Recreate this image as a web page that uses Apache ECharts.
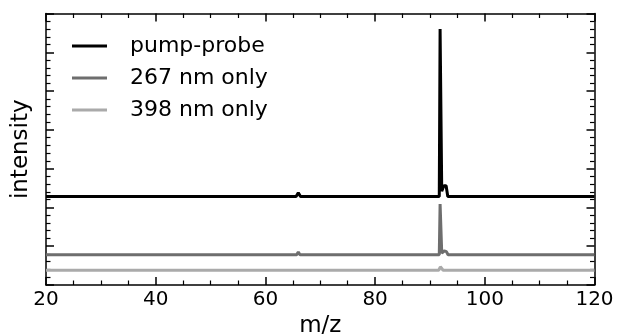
<!DOCTYPE html>
<html>
<head>
<meta charset="utf-8">
<script src="https://cdn.jsdelivr.net/npm/echarts@6/dist/echarts.min.js"></script>
<style>html,body{margin:0;padding:0;background:#fff}#c{width:619px;height:336px}</style>
</head>
<body>
<div id="c"></div>
<script>
// m/z ticks
const xTicks = [20, 40, 60, 80, 100, 120];
const seriesNames = ['pump-probe', '267 nm only', '398 nm only'];
// [m/z, intensity (arb. units, axis 0..7)]
const pumpProbe = [
  [20, 2.28], [40, 2.28], [65.6, 2.28], [66.0, 2.38], [66.4, 2.28],
  [91.7, 2.28], [91.85, 6.6], [92.0, 6.6], [92.15, 2.42], [92.55, 2.56],
  [92.95, 2.56], [93.25, 2.28], [120, 2.28]
];
const only267 = [
  [20, 0.78], [65.7, 0.78], [66.0, 0.85], [66.3, 0.78],
  [91.7, 0.78], [91.85, 2.09], [92.0, 2.09], [92.15, 0.82], [92.6, 0.88],
  [93.0, 0.86], [93.3, 0.78], [120, 0.78]
];
const only398 = [
  [20, 0.38], [91.6, 0.38], [91.9, 0.47], [92.1, 0.47], [92.4, 0.38], [120, 0.38]
];

const chart = echarts.init(document.getElementById('c'), null, {renderer: 'canvas'});
const font = 'DejaVu Sans';
const axLine = {show: true, onZero: false, lineStyle: {color: '#000', width: 1.5}};
const majTick = {show: true, inside: true, length: 8, lineStyle: {color: '#000', width: 1.5}};
const minTick = (n) => ({show: true, splitNumber: n, length: 4.5, lineStyle: {color: '#000', width: 1.2}});

chart.setOption({
  animation: false,
  backgroundColor: '#fff',
  grid: {left: 46, right: 24.5, top: 13.5, bottom: 51, containLabel: false, outerBoundsMode: 'none'},
  legend: {
    orient: 'vertical', left: 67, top: 30, icon: 'rect', itemWidth: 35, itemHeight: 3,
    itemGap: 10,
    textStyle: {fontFamily: font, fontSize: 22, color: '#000', padding: [0, 0, 0, 18], lineHeight: 22},
    data: seriesNames
  },
  xAxis: [
    {type: 'value', min: xTicks[0], max: xTicks[xTicks.length - 1], interval: 20, position: 'bottom',
     axisLine: axLine, axisTick: majTick, minorTick: minTick(4), splitLine: {show: false},
     axisLabel: {fontFamily: font, fontSize: 20, color: '#000', margin: 5},
     name: 'm/z', nameLocation: 'middle', nameGap: 30,
     nameTextStyle: {fontFamily: font, fontSize: 23, color: '#000'}},
    {type: 'value', min: xTicks[0], max: xTicks[xTicks.length - 1], interval: 20, position: 'top',
     axisLine: axLine, axisTick: majTick, minorTick: minTick(4), splitLine: {show: false},
     axisLabel: {show: false}}
  ],
  yAxis: [
    {type: 'value', min: 0, max: 7, interval: 1, position: 'left',
     axisLine: axLine, axisTick: majTick, minorTick: minTick(5), splitLine: {show: false},
     axisLabel: {show: false},
     name: 'intensity', nameLocation: 'middle', nameGap: 13,
     nameTextStyle: {fontFamily: font, fontSize: 23, color: '#000'}},
    {type: 'value', min: 0, max: 7, interval: 1, position: 'right',
     axisLine: axLine, axisTick: majTick, minorTick: minTick(5), splitLine: {show: false},
     axisLabel: {show: false}}
  ],
  series: [
    {name: seriesNames[0], type: 'line', data: pumpProbe, showSymbol: false, z: 5,
     lineStyle: {color: '#000', width: 3}, itemStyle: {color: '#000'}},
    {name: seriesNames[1], type: 'line', data: only267, showSymbol: false, z: 4,
     lineStyle: {color: '#6e6e6e', width: 3}, itemStyle: {color: '#6e6e6e'}},
    {name: seriesNames[2], type: 'line', data: only398, showSymbol: false, z: 3,
     lineStyle: {color: '#aaaaaa', width: 3}, itemStyle: {color: '#aaaaaa'}}
  ]
});
</script>
</body>
</html>
